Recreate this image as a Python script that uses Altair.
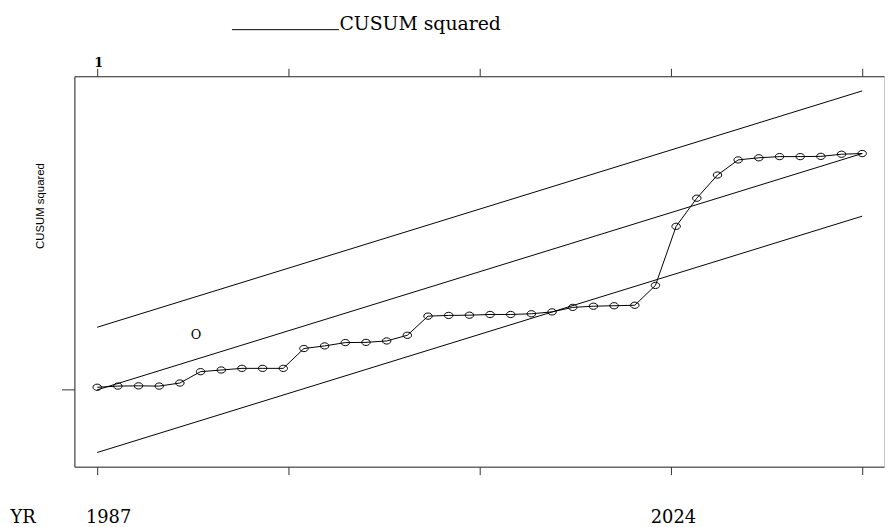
import altair as alt
import pandas as pd

# ---- data ----
obs = list(range(1, 39))
cusumsq = [0.011, 0.016, 0.017, 0.016, 0.029, 0.077, 0.084, 0.091, 0.091, 0.091,
           0.175, 0.186, 0.200, 0.201, 0.207, 0.231, 0.312, 0.315, 0.316, 0.319,
           0.319, 0.322, 0.330, 0.349, 0.354, 0.356, 0.358, 0.442, 0.692, 0.811,
           0.909, 0.973, 0.982, 0.987, 0.987, 0.988, 0.997, 1.000]
bound_obs = [1, 38]
center_line = [0.0, 1.0]
upper_line = [0.265, 1.265]
lower_line = [-0.265, 0.735]
x_ticks = [1, 10.25, 19.5, 28.75, 38]
y_ticks = [0]
note_x = [5.78]
note_y = [0.23]
note_text = ["O"]
series_name = "CUSUM squared"

SERIF = "DejaVu Serif"
SANS = "Liberation Sans, Arial, sans-serif"
DARK = "#333333"

cusum_df = pd.DataFrame({"obs": obs, "value": cusumsq, "series": series_name})
bounds_df = pd.DataFrame({
    "obs": bound_obs * 3,
    "value": upper_line + center_line + lower_line,
    "band": ["upper"] * 2 + ["center"] * 2 + ["lower"] * 2,
})
note_df = pd.DataFrame({"obs": note_x, "value": note_y, "text": note_text})

xscale = alt.Scale(domain=[-0.1023, 39.054], nice=False, zero=False)
yscale = alt.Scale(domain=[-0.325, 1.327], nice=False, zero=False)

bottom_axis = alt.Axis(
    orient="bottom", values=x_ticks, tickSize=8, tickColor=DARK, domainColor=DARK,
    grid=False, labelExpr="datum.value == 1 ? '1987' : (datum.value == 28.75 ? '2024' : '')",
    labelFont=SERIF, labelFontSize=18, labelColor="black", labelBaseline="alphabetic",
    labelPadding=48, labelFlush=False, labelOverlap=False,
    labelOffset={"condition": {"test": "datum.value == 1", "value": 11}, "value": 2},
    title="YR", titleFont=SERIF, titleFontSize=18, titleFontWeight="normal",
    titleColor="black", titleX=-65, titleY=56, titleAlign="left",
    titleBaseline="alphabetic", titleAnchor="start",
)
top_axis = alt.Axis(
    orient="top", values=x_ticks, tickSize=8, tickColor=DARK, domainColor=DARK,
    grid=False, labelExpr="datum.value == 1 ? '1' : ''",
    labelFont=SERIF, labelFontSize=13, labelFontWeight="bold", labelColor="black",
    labelBaseline="alphabetic", labelPadding=1.5, labelOffset=1,
    labelFlush=False, labelOverlap=False, title=None,
)
left_axis = alt.Axis(
    orient="left", values=y_ticks, tickSize=13, tickColor=DARK, domainColor=DARK,
    grid=False, labels=False,
    title="CUSUM squared", titleFont=SANS, titleFontSize=11.5,
    titleFontWeight="normal", titleColor="black", titleX=-31, titleY=130.5,
    titleAngle=270, titleAlign="center", titleBaseline="alphabetic",
)

bounds = alt.Chart(bounds_df).mark_line(color="black", strokeWidth=1).encode(
    x=alt.X("obs:Q", scale=xscale, axis=bottom_axis),
    y=alt.Y("value:Q", scale=yscale, axis=left_axis),
    detail="band:N",
)

cusum_line = alt.Chart(cusum_df).mark_line(strokeWidth=1).encode(
    x=alt.X("obs:Q", scale=xscale, axis=top_axis),
    y=alt.Y("value:Q", scale=yscale, axis=None),
    color=alt.Color(
        "series:N", scale=alt.Scale(range=["black"]),
        legend=alt.Legend(
            orient="none", legendX=158.5, legendY=-101.5, title=None,
            symbolType="stroke", symbolSize=11664, symbolStrokeWidth=1,
            symbolStrokeColor="black",
            labelFont=SERIF, labelFontSize=19, labelColor="black",
            labelOffset=0, labelBaseline="alphabetic", labelLimit=0, padding=0,
        ),
    ),
)

ellipse = "M -1.35 0 A 1.35 1 0 1 0 1.35 0 A 1.35 1 0 1 0 -1.35 0 Z"
points = alt.Chart(cusum_df).mark_point(
    shape=ellipse, size=40, filled=False, color="black", strokeWidth=1,
    opacity=1
).encode(
    x=alt.X("obs:Q", scale=xscale, axis=None),
    y=alt.Y("value:Q", scale=yscale, axis=None),
)

note = alt.Chart(note_df).mark_text(
    font=SERIF, fontSize=13, color="black", align="center", baseline="middle"
).encode(
    x=alt.X("obs:Q", scale=xscale, axis=None),
    y=alt.Y("value:Q", scale=yscale, axis=None),
    text="text:N",
)

chart = alt.layer(bounds, cusum_line, points, note).resolve_axis(
    x="independent", y="independent"
).properties(
    width=817, height=394,
    autosize=alt.AutoSizeParams(type="none"),
    padding={"left": 67, "top": 66.5, "right": 1, "bottom": 58},
    background="white",
).configure_view(stroke="#c8c8c8", strokeWidth=1)

chart.save("out.html", embed_options={"renderer": "svg", "actions": False})
